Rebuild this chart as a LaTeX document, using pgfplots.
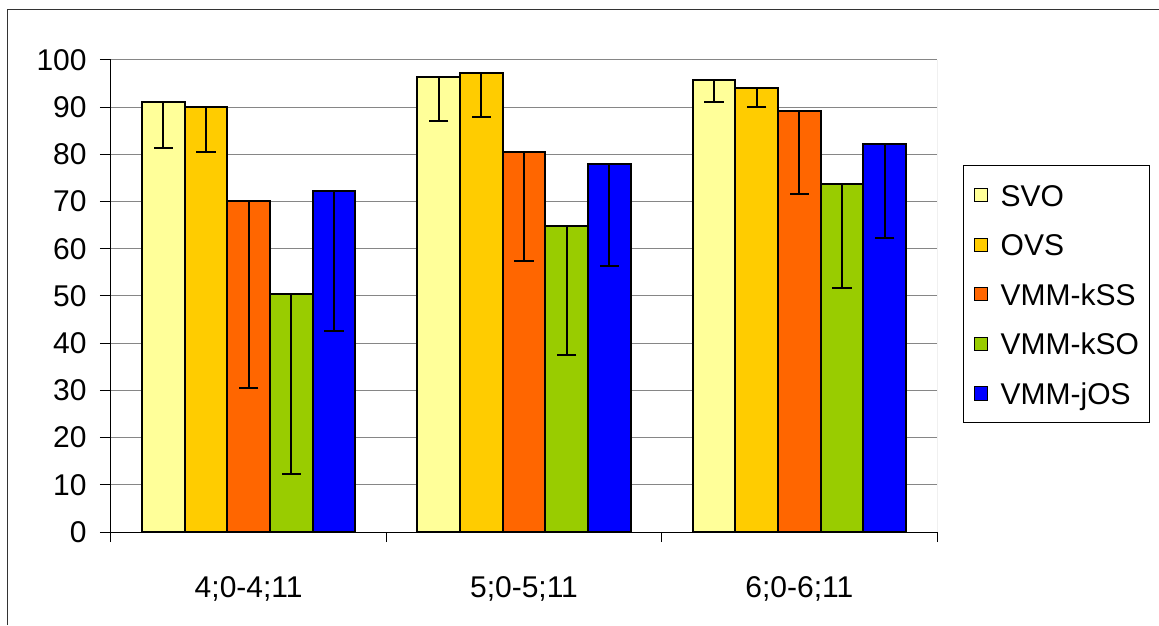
\documentclass[border=0pt]{standalone}
\usepackage{fontspec}
\setmainfont{Liberation Sans}
\usepackage{pgfplots}
\pgfplotsset{compat=1.18}

\definecolor{cSVO}{RGB}{255,255,153}
\definecolor{cOVS}{RGB}{255,204,0}
\definecolor{ckSS}{RGB}{255,102,0}
\definecolor{ckSO}{RGB}{153,204,0}
\definecolor{cjOS}{RGB}{0,0,255}
\definecolor{gridgray}{RGB}{134,134,134}

\newcommand{\lbl}{\fontsize{15pt}{18pt}\selectfont}

\begin{document}
\begin{tikzpicture}
% page = 1159x625 px at 0.5pt per px, plot area lower left at (0,0)
\useasboundingbox (-55.5pt,-46.5pt) rectangle (524pt,266pt);
\draw[black!80, line width=0.5pt] (-51.5pt,-46.5pt) -- (-51.5pt,261pt) -- (524pt,261pt);
\begin{axis}[
  scale only axis,
  width=413pt, height=236pt,
  ybar,
  bar width=0.155,
  xmin=-0.5, xmax=2.5,
  ymin=0, ymax=100,
  ytick={0,10,...,100},
  xtick={0,1,2},
  xticklabels={4;0-4;11, 5;0-5;11, 6;0-6;11},
  minor xtick={-0.5,0.5,1.5,2.5},
  minor ytick={},
  axis lines*=left,
  axis line style={black, line width=0.5pt},
  tick align=outside,
  major tick length=5.5pt,
  minor tick length=5pt,
  major x tick style={draw=none},
  minor x tick style={black, line width=0.5pt},
  ytick style={black, line width=0.5pt},
  ymajorgrids,
  major grid style={gridgray, line width=0.5pt},
  tick label style={font=\lbl},
  /pgf/number format/assume math mode=true,
  yticklabel style={inner sep=0pt, xshift=-6.5pt},
  xticklabel style={inner sep=0pt, anchor=north, yshift=-16.5pt},
  error bars/error bar style={black, line width=1pt},
  error bars/error mark options={rotate=90, black, line width=1pt, mark size=4.8pt},
  legend cell align=left,
  legend style={
    at={(1.0315,0.777)}, anchor=north west,
    draw=black, line width=0.5pt,
    font=\lbl,
    inner xsep=5pt, inner ysep=9.2pt,
    row sep=13.8pt,
    nodes={inner sep=0pt, text height=11pt, text depth=0pt},
    /tikz/every odd column/.append style={column sep=6.5pt},
  },
  legend image code/.code={\draw[#1, line width=0.5pt, draw=black] (0pt,-3.3pt) rectangle (6.6pt,3.3pt);},
]
\addplot[fill=cSVO, draw=black, line width=1pt, bar shift=-0.31,
  error bars/.cd, y dir=minus, y explicit]
  coordinates {(0,91.1) -= (0,9.7) (1,96.3) -= (0,9.3) (2,95.8) -= (0,4.6)};
\addlegendentry{SVO}
\addplot[fill=cOVS, draw=black, line width=1pt, bar shift=-0.155,
  error bars/.cd, y dir=minus, y explicit]
  coordinates {(0,90.0) -= (0,9.5) (1,97.3) -= (0,9.3) (2,94.1) -= (0,4.1)};
\addlegendentry{OVS}
\addplot[fill=ckSS, draw=black, line width=1pt, bar shift=0,
  error bars/.cd, y dir=minus, y explicit]
  coordinates {(0,70.1) -= (0,39.5) (1,80.5) -= (0,23.1) (2,89.1) -= (0,17.5)};
\addlegendentry{VMM-kSS}
\addplot[fill=ckSO, draw=black, line width=1pt, bar shift=0.155,
  error bars/.cd, y dir=minus, y explicit]
  coordinates {(0,50.5) -= (0,38.2) (1,64.9) -= (0,27.4) (2,73.7) -= (0,22.0)};
\addlegendentry{VMM-kSO}
\addplot[fill=cjOS, draw=black, line width=1pt, bar shift=0.31,
  error bars/.cd, y dir=minus, y explicit]
  coordinates {(0,72.3) -= (0,29.7) (1,77.9) -= (0,21.6) (2,82.3) -= (0,20.0)};
\addlegendentry{VMM-jOS}
\draw[gridgray, line width=0.5pt] (rel axis cs:1,0) -- (rel axis cs:1,1);
\end{axis}
\end{tikzpicture}
\end{document}
